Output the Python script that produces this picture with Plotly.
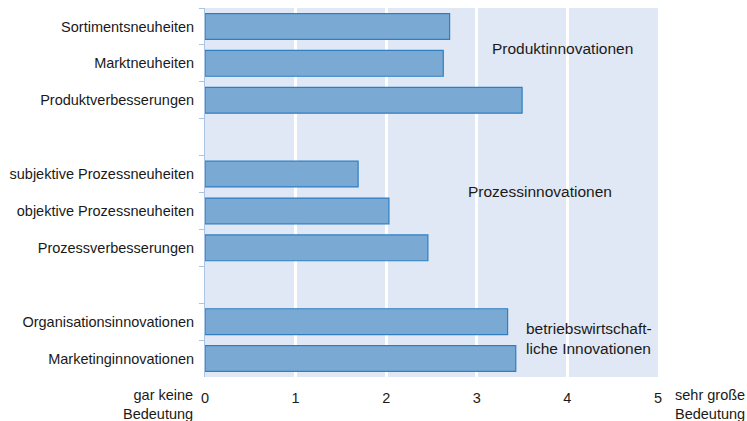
import plotly.graph_objects as go

categories = ["Sortimentsneuheiten", "Marktneuheiten", "Produktverbesserungen", " ",
              "subjektive Prozessneuheiten", "objektive Prozessneuheiten", "Prozessverbesserungen", "  ",
              "Organisationsinnovationen", "Marketinginnovationen"]
bar_labels = ["Sortimentsneuheiten", "Marktneuheiten", "Produktverbesserungen",
              "subjektive Prozessneuheiten", "objektive Prozessneuheiten", "Prozessverbesserungen",
              "Organisationsinnovationen", "Marketinginnovationen"]
values = [2.70, 2.63, 3.50, 1.69, 2.03, 2.46, 3.34, 3.43]
x_ticks = [0, 1, 2, 3, 4, 5]
group_labels = ["Produktinnovationen", "Prozessinnovationen", "betriebswirtschaft-<br>liche Innovationen"]

FONT = "Liberation Sans, Arial, sans-serif"
TXT = "#1a1a1a"

fig = go.Figure()
fig.add_trace(go.Bar(
    y=bar_labels, x=values, orientation="h", width=0.7,
    marker=dict(color="#7aaad4", line=dict(color="#2e7fc1", width=1.2)),
    hoverinfo="x+y",
))

fig.update_layout(
    width=747, height=421,
    margin=dict(l=205, r=89, t=8, b=44, autoexpand=False),
    paper_bgcolor="white", plot_bgcolor="#e1e8f5",
    showlegend=False,
    font=dict(family=FONT, size=14, color=TXT),
)
fig.update_xaxes(
    range=[0, 5], tickvals=x_ticks, ticktext=[str(v) for v in x_ticks],
    showgrid=True, gridcolor="white", gridwidth=3, zeroline=False,
    showline=False, ticks="", ticklabelstandoff=10,
    tickfont=dict(size=14.5, family=FONT, color=TXT),
    fixedrange=True, automargin=False,
)
fig.update_yaxes(
    type="category", categoryorder="array", categoryarray=categories,
    range=[9.5, -0.5], tickson="boundaries", ticks="outside", ticklen=5,
    tickcolor="#a9c4e4", showline=True, linecolor="#a9c4e4", linewidth=1,
    showgrid=False, tickfont=dict(size=14.5, family=FONT, color=TXT),
    ticklabelstandoff=7,
    fixedrange=True, automargin=False,
)

# group annotations
fig.add_annotation(x=3.15, y="Marktneuheiten", yshift=15, text=group_labels[0], showarrow=False,
                   xanchor="left", font=dict(size=15.5, family=FONT, color=TXT))
fig.add_annotation(x=2.88, y="objektive Prozessneuheiten", yshift=19, text=group_labels[1], showarrow=False,
                   xanchor="left", font=dict(size=15.5, family=FONT, color=TXT))
fig.add_annotation(x=3.52, y="Organisationsinnovationen", yshift=-17, text=group_labels[2], showarrow=False,
                   xanchor="left", align="left", font=dict(size=15.5, family=FONT, color=TXT))

# axis end labels
fig.add_annotation(xref="paper", yref="paper", x=0, y=0, xshift=-10, yshift=-8,
                   text="gar keine<br>Bedeutung", showarrow=False, xanchor="right", yanchor="top",
                   align="right", font=dict(size=14.5, family=FONT, color=TXT))
fig.add_annotation(xref="paper", yref="paper", x=1, y=0, xshift=15, yshift=-8,
                   text="sehr große<br>Bedeutung", showarrow=False, xanchor="left", yanchor="top",
                   align="left", font=dict(size=14.5, family=FONT, color=TXT))

fig.write_html("out.html",
               config={"displayModeBar": False},
               post_script="document.body.style.margin='0';document.body.style.overflow='hidden';")
